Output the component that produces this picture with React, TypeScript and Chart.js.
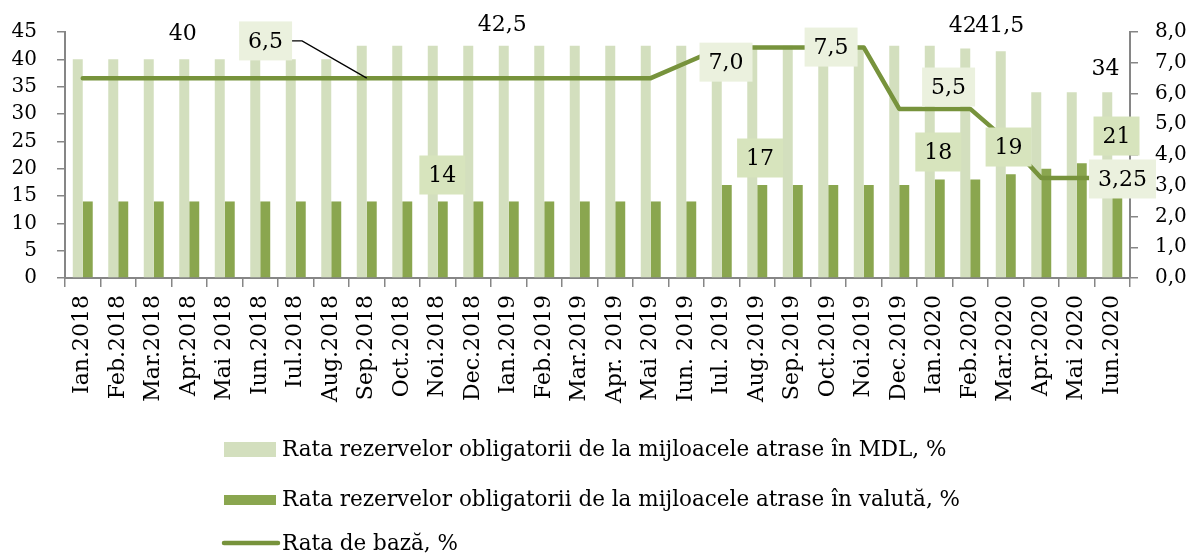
import React, { useEffect, useRef } from "react";
import { Chart, registerables } from "chart.js";

Chart.register(...registerables);

const categories = [
  "Ian.2018", "Feb.2018", "Mar.2018", "Apr.2018", "Mai 2018", "Iun.2018",
  "Iul.2018", "Aug.2018", "Sep.2018", "Oct.2018", "Noi.2018", "Dec.2018",
  "Ian.2019", "Feb.2019", "Mar.2019", "Apr. 2019", "Mai 2019", "Iun. 2019",
  "Iul. 2019", "Aug.2019", "Sep.2019", "Oct.2019", "Noi.2019", "Dec.2019",
  "Ian.2020", "Feb.2020", "Mar.2020", "Apr.2020", "Mai 2020", "Iun.2020",
];

const mdlRates = [
  40, 40, 40, 40, 40, 40, 40, 40,
  42.5, 42.5, 42.5, 42.5, 42.5, 42.5, 42.5, 42.5, 42.5, 42.5, 42.5, 42.5,
  42.5, 42.5, 42.5, 42.5, 42.5,
  42, 41.5, 34, 34, 34,
];

const fxRates = [
  14, 14, 14, 14, 14, 14, 14, 14, 14, 14, 14, 14, 14, 14, 14, 14, 14, 14,
  17, 17, 17, 17, 17, 17,
  18, 18, 19, 20, 21, 21,
];

const baseRates = [
  6.5, 6.5, 6.5, 6.5, 6.5, 6.5, 6.5, 6.5, 6.5, 6.5, 6.5, 6.5, 6.5, 6.5, 6.5, 6.5, 6.5,
  7.0, 7.5, 7.5, 7.5, 7.5, 7.5, 5.5, 5.5, 5.5, 4.5, 3.25, 3.25, 3.25,
];

const leftTicks = [0, 5, 10, 15, 20, 25, 30, 35, 40, 45];
const rightTicks = [0, 1, 2, 3, 4, 5, 6, 7, 8];

const legendLabels = [
  "Rata rezervelor obligatorii de la mijloacele atrase în MDL, %",
  "Rata rezervelor obligatorii de la mijloacele atrase în valută, %",
  "Rata de bază, %",
];

// value annotations: text, category position, value on its axis
const mdlNotes = [
  { text: "40", at: 2.82, v: 44.8 },
  { text: "42,5", at: 11.82, v: 46.5 },
  { text: "42", at: 24.79, v: 46.3 },
  { text: "41,5", at: 25.83, v: 46.3 },
  { text: "34", at: 28.81, v: 38.4 },
];
const fxNotes = [
  { text: "14", at: 10.13, v: 18.84 },
  { text: "17", at: 19.08, v: 21.95 },
  { text: "18", at: 24.1, v: 23.05 },
  { text: "19", at: 26.08, v: 23.96 },
  { text: "21", at: 29.12, v: 25.97 },
];
const baseNotes = [
  { text: "6,5", at: 5.15, v: 7.71, leaderTo: 8 },
  { text: "7,0", at: 18.12, v: 7.02 },
  { text: "7,5", at: 21.08, v: 7.51 },
  { text: "5,5", at: 24.39, v: 6.21 },
  { text: "3,25", at: 29.29, v: 3.22 },
];

const FONT = "'DejaVu Serif', serif";
const LIGHT = "#D3DFBE";
const DARK = "#8AA64F";
const LINE = "#77933C";
const AXIS = "#868686";

const notesPlugin = {
  id: "notes",
  afterDatasetsDraw(chart: any) {
    const ctx = chart.ctx as CanvasRenderingContext2D;
    const xs = chart.scales.x;
    const ys = chart.scales.y;
    const y1s = chart.scales.y1;
    const x0 = xs.getPixelForValue(0);
    const step = xs.getPixelForValue(1) - x0;
    const px = (i: number) => x0 + i * step;
    ctx.save();
    ctx.font = `22px ${FONT}`;
    ctx.textAlign = "center";
    ctx.textBaseline = "middle";

    const box = (text: string, cx: number, cy: number, fill: string) => {
      const w = ctx.measureText(text).width + 18;
      const h = 39;
      ctx.fillStyle = fill;
      ctx.fillRect(cx - w / 2, cy - h / 2, w, h);
      ctx.fillStyle = "#000";
      ctx.fillText(text, cx, cy + 1);
      return w;
    };

    for (const n of mdlNotes) {
      ctx.fillStyle = "#000";
      ctx.fillText(n.text, px(n.at), ys.getPixelForValue(n.v) + 1);
    }
    for (const n of fxNotes) {
      box(n.text, px(n.at), ys.getPixelForValue(n.v), "#D7E4BD");
    }
    for (const n of baseNotes) {
      const cx = px(n.at);
      const cy = y1s.getPixelForValue(n.v);
      const w = box(n.text, cx, cy, "#EBF1DE");
      if ((n as any).leaderTo !== undefined) {
        const li = (n as any).leaderTo as number;
        const tx = xs.getPixelForValue(li);
        const ty = y1s.getPixelForValue(baseRates[li]);
        ctx.strokeStyle = "#000";
        ctx.lineWidth = 1.3;
        ctx.beginPath();
        ctx.moveTo(cx + w / 2, cy);
        ctx.lineTo(cx + w / 2 + 10, cy);
        ctx.lineTo(tx, ty);
        ctx.stroke();
      }
    }
    ctx.restore();
  },
  afterDraw(chart: any) {
    const ctx = chart.ctx as CanvasRenderingContext2D;
    ctx.save();
    ctx.font = `21.5px ${FONT}`;
    ctx.textAlign = "left";
    ctx.textBaseline = "middle";
    ctx.fillStyle = "#000";
    const rows = [450, 500, 544];
    // swatches
    ctx.fillStyle = LIGHT;
    ctx.fillRect(224, rows[0] - 8, 52, 15);
    ctx.fillStyle = DARK;
    ctx.fillRect(224, rows[1] - 5, 52, 10);
    ctx.strokeStyle = LINE;
    ctx.lineWidth = 4.5;
    ctx.lineCap = "round";
    ctx.beginPath();
    ctx.moveTo(224, rows[2] - 1);
    ctx.lineTo(278, rows[2] - 1);
    ctx.stroke();
    ctx.fillStyle = "#000";
    legendLabels.forEach((t, i) => ctx.fillText(t, 282, rows[i]));
    ctx.restore();
  },
};

export default function App() {
  const ref = useRef<HTMLCanvasElement | null>(null);
  useEffect(() => {
    document.body.style.margin = "0";
    const canvas = ref.current!;
    const chart = new Chart(canvas, {
      type: "bar",
      data: {
        labels: categories,
        datasets: [
          {
            type: "line",
            label: legendLabels[2],
            data: baseRates,
            yAxisID: "y1",
            borderColor: LINE,
            backgroundColor: LINE,
            borderWidth: 4.5,
            pointRadius: 0,
            borderCapStyle: "round",
            borderJoinStyle: "round",
            tension: 0,
            order: 0,
          } as any,
          {
            type: "bar",
            label: legendLabels[0],
            data: mdlRates,
            yAxisID: "y",
            backgroundColor: LIGHT,
            categoryPercentage: 0.5625,
            barPercentage: 1,
            order: 1,
          },
          {
            type: "bar",
            label: legendLabels[1],
            data: fxRates,
            yAxisID: "y",
            backgroundColor: DARK,
            categoryPercentage: 0.5625,
            barPercentage: 1,
            order: 1,
          },
        ],
      },
      options: {
        responsive: false,
        animation: false,
        layout: { padding: { top: 32, left: 0, right: 0, bottom: 0 } },
        plugins: {
          legend: { display: false },
          tooltip: { enabled: false },
        },
        scales: {
          x: {
            grid: {
              display: true,
              drawOnChartArea: false,
              drawTicks: true,
              tickLength: 9,
              color: AXIS,
              lineWidth: 1.5,
              offset: true,
            },
            border: { display: true, color: AXIS, width: 2 },
            ticks: {
              autoSkip: false,
              minRotation: 90,
              maxRotation: 90,
              padding: 8,
              color: "#000",
              font: { family: FONT, size: 22 },
            },
            afterFit: (s: any) => {
              s.height = 276;
            },
          } as any,
          y: {
            position: "left",
            min: 0,
            max: 45,
            afterBuildTicks: (s: any) => {
              s.ticks = leftTicks.map((v) => ({ value: v }));
            },
            grid: {
              drawOnChartArea: false,
              tickLength: 8,
              color: AXIS,
              lineWidth: 1.5,
            },
            border: { display: true, color: AXIS, width: 2 },
            ticks: {
              padding: 20,
              color: "#000",
              font: { family: FONT, size: 20 },
              callback: (v: any) => String(v),
            },
            afterFit: (s: any) => {
              s.width = 65;
            },
          } as any,
          y1: {
            position: "right",
            min: 0,
            max: 8,
            afterBuildTicks: (s: any) => {
              s.ticks = rightTicks.map((v) => ({ value: v }));
            },
            grid: {
              drawOnChartArea: false,
              tickLength: 8,
              color: AXIS,
              lineWidth: 1.5,
            },
            border: { display: true, color: AXIS, width: 2 },
            ticks: {
              padding: 17,
              color: "#000",
              font: { family: FONT, size: 20 },
              callback: (v: any) => Number(v).toFixed(1).replace(".", ","),
            },
            afterFit: (s: any) => {
              s.width = 62;
            },
          } as any,
        },
      },
      plugins: [notesPlugin],
    });
    return () => chart.destroy();
  }, []);
  return (
    <div style={{ position: "fixed", left: 0, top: 0, width: 1192, height: 554, background: "#fff" }}>
      <canvas ref={ref} width={1192} height={554} style={{ width: 1192, height: 554, display: "block" }} />
    </div>
  );
}
